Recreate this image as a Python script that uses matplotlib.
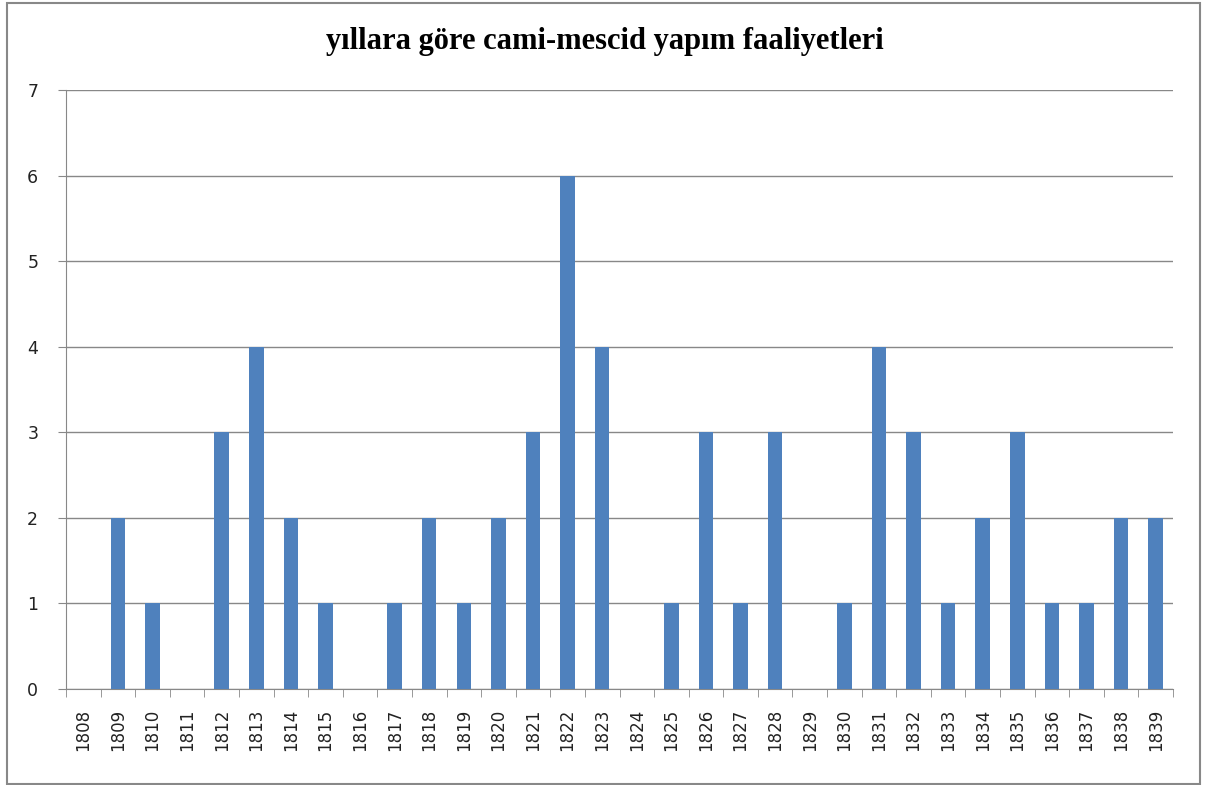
import numpy as np
import matplotlib.pyplot as plt
from matplotlib.patches import Rectangle

# yıllar ve yapım sayıları
years = [str(y) for y in range(1808, 1840)]
counts = [0, 2, 1, 0, 3, 4, 2, 1, 0, 1, 2, 1, 2, 3, 6, 4,
          0, 1, 3, 1, 3, 0, 1, 4, 3, 1, 2, 3, 1, 1, 2, 2]
title = "yıllara göre cami-mescid yapım faaliyetleri"

fig = plt.figure(figsize=(12.09, 7.85), dpi=100)
ax = fig.add_axes([66/1209, 1-689/785, (1173-66)/1209, (689-90)/785])

x = np.arange(len(years))
ax.bar(x, counts, width=0.42, color='#4F81BD', zorder=3)

ax.set_xlim(-0.5, len(years)-0.5)
ax.set_ylim(0, 7)
ax.set_yticks(range(0, 8))
ax.yaxis.grid(True, color='#888888', linewidth=1, zorder=0)

ax.set_xticks(x)
ax.set_xticklabels(years, rotation=90, fontsize=12, color='#222222', family='DejaVu Sans')
ax.set_xticks(np.arange(-0.5, len(years)), minor=True)
ax.tick_params(axis='x', which='major', length=0, pad=14)
ax.tick_params(axis='x', which='minor', length=6, color='#888888')
ax.tick_params(axis='y', length=6, color='#888888', labelsize=12.5, pad=14, labelcolor='#222222')

for s in ['top', 'right']:
    ax.spines[s].set_visible(False)
for s in ['left', 'bottom']:
    ax.spines[s].set_color('#888888')

fig.text(605/1209, 1-42/785, title, ha='center', va='center', fontsize=22,
         fontweight='bold', family='Liberation Serif')

fig.patches.append(Rectangle((7/1209, 1/785), 1193/1209, 781/785, transform=fig.transFigure,
                             fill=False, edgecolor='#888888', linewidth=1.5))

fig.savefig('out.png', dpi=100)
